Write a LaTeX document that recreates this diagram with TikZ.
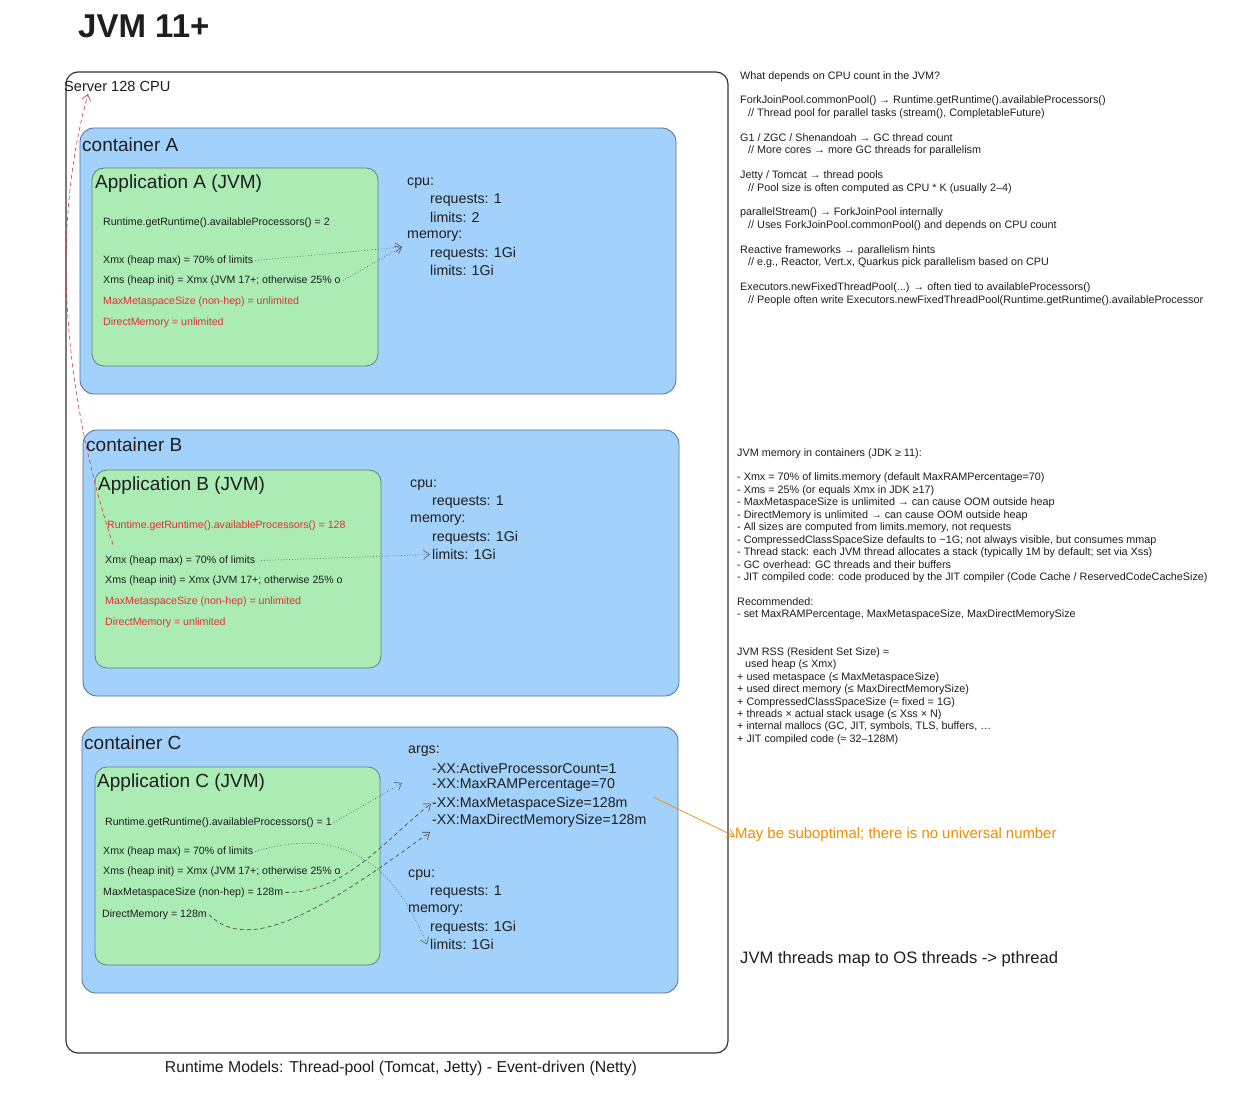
\documentclass[tikz,border=0pt]{standalone}
\usepackage{fontspec}
\setmainfont{Liberation Sans}
\usetikzlibrary{arrows.meta,positioning}
\definecolor{ctrBlue}{RGB}{162,210,252}
\definecolor{ctrEdge}{RGB}{85,110,140}
\definecolor{appGreen}{RGB}{170,236,180}
\definecolor{appEdge}{RGB}{105,125,115}
\definecolor{warnRed}{RGB}{224,49,49}
\definecolor{noteOrange}{RGB}{240,140,0}
\definecolor{inkGray}{RGB}{30,30,30}
\newcommand{\fsCode}{\fontsize{10.6}{12.45}\selectfont}
\newcommand{\fsNote}{\fontsize{10.8}{12.45}\selectfont}
\newcommand{\fsSpec}{\fontsize{14.2}{17}\selectfont}
\newcommand{\fsHead}{\fontsize{19}{22}\selectfont}
\tikzset{
  srvbox/.style={draw=inkGray!90, line width=1.2pt, rounded corners=12pt},
  ctrbox/.style={draw=ctrEdge, fill=ctrBlue, line width=0.8pt, rounded corners=14pt},
  appbox/.style={draw=appEdge, fill=appGreen, line width=0.8pt, rounded corners=12pt},
  txt/.style={anchor=west, inner sep=0pt, text=inkGray, yshift=-2.5pt},
  codeln/.style={txt, font=\fsCode},
  specln/.style={txt, font=\fsSpec},
  headln/.style={txt, font=\fsHead},
  noteblk/.style={anchor=north west, inner sep=0pt, align=left, text=inkGray, font=\fsNote},
  dotarr/.style={-{Straight Barb[length=6pt,width=9pt]}, line width=0.6pt, inkGray!75,
    dash pattern=on 0.8pt off 2pt},
  dasharr/.style={-{Straight Barb[length=6pt,width=9pt]}, line width=0.6pt, inkGray!85,
    dash pattern=on 4pt off 3pt},
  redarr/.style={-{Straight Barb[length=6pt,width=9pt]}, line width=0.6pt, warnRed,
    dash pattern=on 4pt off 3pt},
  orarr/.style={-{Straight Barb[length=7pt,width=9pt]}, line width=0.7pt, noteOrange},
}

\begin{document}
\begin{tikzpicture}[x=1pt,y=-1pt]
  \useasboundingbox (0,0) rectangle (1236,1094);
  \fill[white] (0,0) rectangle (1236,1094);
  % title and server frame
  \node[txt, font=\fontsize{33}{36}\selectfont\bfseries] (title) at (78,24) {JVM 11+};
  \draw[srvbox] (66,72) rectangle (728,1053);
  \node[txt, font=\fontsize{14.6}{17}\selectfont] (srvlbl) at (64,84) {Server 128 CPU};
  \coordinate (srvTip) at (88,94);

  % container A
  \draw[ctrbox] (80,128) rectangle (676,394);
  \node[headln] (ctrA) at (82,142) {container A};
  \draw[appbox] (92,168) rectangle (378,366);
  \node[headln] (appA) at (95,181) {Application A (JVM)};
  \node[codeln] (rtA) at (103,220) {Runtime.getRuntime().availableProcessors() = 2};
  \node[codeln] (xmxA) at (103,258) {Xmx (heap max) = 70\% of limits};
  \node[codeln] (xmsA) at (103,278) {Xms (heap init) = Xmx (JVM 17+; otherwise 25\% o};
  \node[codeln, text=warnRed] (metaA) at (103,299) {MaxMetaspaceSize (non-hep) = unlimited};
  \node[codeln, text=warnRed] (dirA) at (103,320) {DirectMemory = unlimited};
  \node[specln] (cpuA) at (407,181) {cpu:};
  \node[specln] (rqA) at (430,198) {requests: 1};
  \node[specln] (lmA) at (430,215) {limits: 2};
  \node[specln] (memA) at (407,234) {memory:};
  \node[specln] (mrqA) at (430,251) {requests: 1Gi};
  \node[specln] (mlmA) at (430,268) {limits: 1Gi};
  \coordinate (hitA) at (402,247);
  \draw[dotarr] ([xshift=2pt]xmxA.east) -- (hitA);
  \draw[dotarr] ([xshift=2pt]xmsA.east) -- (hitA);

  % container B
  \draw[ctrbox] (83,430) rectangle (679,696);
  \node[headln] (ctrB) at (86,442) {container B};
  \draw[appbox] (95,470) rectangle (381,668);
  \node[headln] (appB) at (98,483) {Application B (JVM)};
  \node[codeln, text=warnRed] (rtB) at (107,523) {Runtime.getRuntime().availableProcessors() = 128};
  \node[codeln] (xmxB) at (105,558) {Xmx (heap max) = 70\% of limits};
  \node[codeln] (xmsB) at (105,578) {Xms (heap init) = Xmx (JVM 17+; otherwise 25\% o};
  \node[codeln, text=warnRed] (metaB) at (105,599) {MaxMetaspaceSize (non-hep) = unlimited};
  \node[codeln, text=warnRed] (dirB) at (105,620) {DirectMemory = unlimited};
  \node[specln] (cpuB) at (410,483) {cpu:};
  \node[specln] (rqB) at (432,500) {requests: 1};
  \node[specln] (memB) at (410,518) {memory:};
  \node[specln] (mrqB) at (432,535) {requests: 1Gi};
  \node[specln] (mlmB) at (432,552) {limits: 1Gi};
  \draw[dotarr] ([xshift=6pt]xmxB.east) -- ([xshift=-2pt]mlmB.west);
  % 128 comes from the host
  \draw[redarr] ([shift={(6,14)}]rtB.south west) .. controls (72,420) and (45,250) .. (srvTip);

  % container C
  \draw[ctrbox] (82,727) rectangle (678,993);
  \node[headln] (ctrC) at (84,740) {container C};
  \draw[appbox] (95,767) rectangle (380,965);
  \node[headln] (appC) at (97,780) {Application C (JVM)};
  \node[codeln] (rtC) at (105,820) {Runtime.getRuntime().availableProcessors() = 1};
  \node[codeln] (xmxC) at (103,849) {Xmx (heap max) = 70\% of limits};
  \node[codeln] (xmsC) at (103,869) {Xms (heap init) = Xmx (JVM 17+; otherwise 25\% o};
  \node[codeln] (metaC) at (103,890) {MaxMetaspaceSize (non-hep) = 128m};
  \node[codeln] (dirC) at (102,912) {DirectMemory = 128m};
  \node[specln] (argsC) at (408,749) {args:};
  \node[specln] (apcC) at (432,766) {-XX:ActiveProcessorCount=1};
  \node[specln] (ramC) at (432,783) {-XX:MaxRAMPercentage=70};
  \node[specln] (mmsC) at (432,801) {-XX:MaxMetaspaceSize=128m};
  \node[specln] (mdmC) at (432,818) {-XX:MaxDirectMemorySize=128m};
  \node[specln] (cpuC) at (408,873) {cpu:};
  \node[specln] (rqC) at (430,890) {requests: 1};
  \node[specln] (memC) at (408,908) {memory:};
  \node[specln] (mrqC) at (430,925) {requests: 1Gi};
  \node[specln] (mlmC) at (430,942) {limits: 1Gi};
  \coordinate (hitC1) at (402,783);
  \coordinate (hitC4) at (430,832);
  \draw[dotarr] ([xshift=2pt]rtC.east) -- (hitC1);
  \draw[dotarr] ([xshift=2pt]xmxC.east) .. controls (340,826) and (392,860) .. ([xshift=-3pt]mlmC.west);
  \draw[dasharr] ([xshift=2pt]metaC.east) .. controls (345,893) and (385,840) .. ([xshift=-1pt]mmsC.west);
  \draw[dasharr] ([xshift=2pt]dirC.east) .. controls (250,957) and (330,905) .. (hitC4);

  % notes on the right
  \node[noteblk] (cpuNotes) at (740,71) {What depends on CPU count in the JVM?\\[12.45pt]
    ForkJoinPool.commonPool() → Runtime.getRuntime().availableProcessors()\\
    \hspace*{8pt}// Thread pool for parallel tasks (stream(), CompletableFuture)\\[12.45pt]
    G1 / ZGC / Shenandoah → GC thread count\\
    \hspace*{8pt}// More cores → more GC threads for parallelism\\[12.45pt]
    Jetty / Tomcat → thread pools\\
    \hspace*{8pt}// Pool size is often computed as CPU * K (usually 2–4)\\[12.45pt]
    parallelStream() → ForkJoinPool internally\\
    \hspace*{8pt}// Uses ForkJoinPool.commonPool() and depends on CPU count\\[12.45pt]
    Reactive frameworks → parallelism hints\\
    \hspace*{8pt}// e.g., Reactor, Vert.x, Quarkus pick parallelism based on CPU\\[12.45pt]
    Executors.newFixedThreadPool(...) → often tied to availableProcessors()\\
    \hspace*{8pt}// People often write Executors.newFixedThreadPool(Runtime.getRuntime().availableProcessor};
  \node[noteblk] (memNotes) at (737,448) {JVM memory in containers (JDK ≥ 11):\\[12.45pt]
    - Xmx = 70\% of limits.memory (default MaxRAMPercentage=70)\\
    - Xms = 25\% (or equals Xmx in JDK ≥17)\\
    - MaxMetaspaceSize is unlimited → can cause OOM outside heap\\
    - DirectMemory is unlimited → can cause OOM outside heap\\
    - All sizes are computed from limits.memory, not requests\\
    - CompressedClassSpaceSize defaults to \textasciitilde 1G; not always visible, but consumes mmap\\
    - Thread stack: each JVM thread allocates a stack (typically 1M by default; set via Xss)\\
    - GC overhead: GC threads and their buffers\\
    - JIT compiled code: code produced by the JIT compiler (Code Cache / ReservedCodeCacheSize)\\[12.45pt]
    Recommended:\\
    - set MaxRAMPercentage, MaxMetaspaceSize, MaxDirectMemorySize\\[24.9pt]
    JVM RSS (Resident Set Size) ≈\\
    \hspace*{8pt}used heap (≤ Xmx)\\
    + used metaspace (≤ MaxMetaspaceSize)\\
    + used direct memory (≤ MaxDirectMemorySize)\\
    + CompressedClassSpaceSize (≈ fixed = 1G)\\
    + threads × actual stack usage (≤ Xss × N)\\
    + internal mallocs (GC, JIT, symbols, TLS, buffers, …\\
    + JIT compiled code (≈ 32–128M)};

  % warning on the args
  \coordinate (oStart) at (653,797);
  \node[txt, text=noteOrange, font=\fontsize{14.9}{17}\selectfont] (subopt) at (735,832)
    {May be suboptimal; there is no universal number};
  \draw[orarr] (oStart) -- ([yshift=-2pt]subopt.west);
  \node[txt, font=\fontsize{16.6}{20}\selectfont] (pthr) at (740,957) {JVM threads map to OS threads -> pthread};
  \node[inner sep=0pt, text=inkGray, font=\fontsize{15.8}{18}\selectfont] (models) at (401,1068)
    {Runtime Models: Thread-pool (Tomcat, Jetty) - Event-driven (Netty)};
\end{tikzpicture}
\end{document}
